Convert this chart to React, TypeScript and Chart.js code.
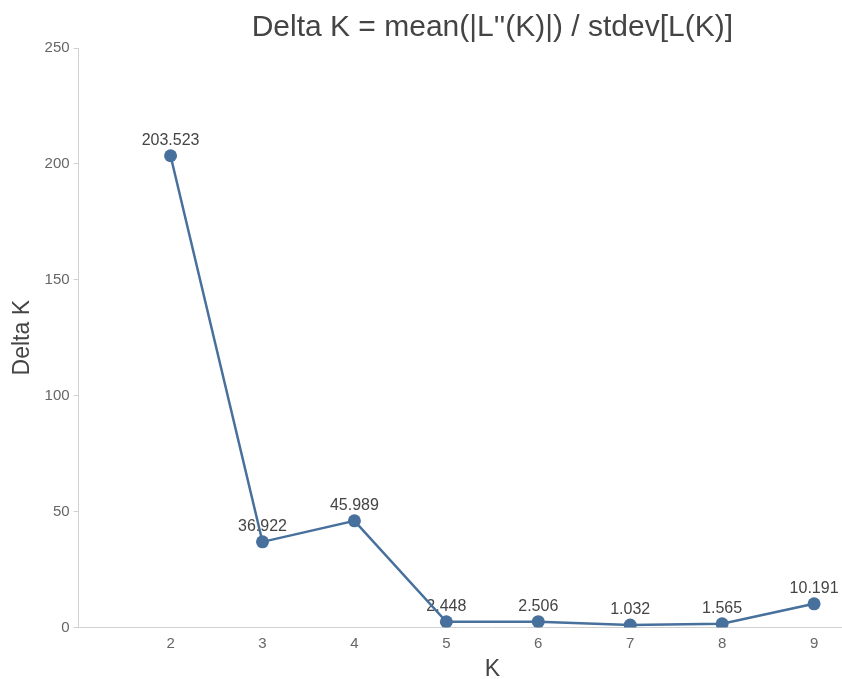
import React, { useEffect, useRef } from "react";
import { Chart, registerables } from "chart.js";

Chart.register(...registerables);

const kValues = [2, 3, 4, 5, 6, 7, 8, 9];
const deltaK = [203.523, 36.922, 45.989, 2.448, 2.506, 1.032, 1.565, 10.191];
const deltaKLabels = ["203.523", "36.922", "45.989", "2.448", "2.506", "1.032", "1.565", "10.191"];
const yTicks = [0, 50, 100, 150, 200, 250];
const titleText = "Delta K = mean(|L''(K)|) / stdev[L(K)]";

const FONT = "'Liberation Sans', Arial, Helvetica, sans-serif";
const LINE_COLOR = "#48709c";

const labelPlugin = {
  id: "valueLabels",
  beforeDatasetsDraw(chart: any) {
    const ctx = chart.ctx;
    const meta = chart.getDatasetMeta(0);
    ctx.save();
    ctx.font = `16px ${FONT}`;
    ctx.fillStyle = "#444";
    ctx.textAlign = "center";
    ctx.textBaseline = "bottom";
    meta.data.forEach((pt: any, i: number) => {
      ctx.fillText(deltaKLabels[i], pt.x, pt.y - 7);
    });
    ctx.restore();
  },
};

const titlePlugin = {
  id: "areaTitle",
  afterDraw(chart: any) {
    const ctx = chart.ctx;
    const area = chart.chartArea;
    ctx.save();
    ctx.font = `30px ${FONT}`;
    ctx.fillStyle = "#444";
    ctx.textAlign = "center";
    ctx.textBaseline = "middle";
    ctx.fillText(titleText, (area.left + area.right) / 2, 28);
    ctx.restore();
  },
};

export default function App() {
  const ref = useRef<HTMLCanvasElement | null>(null);
  useEffect(() => {
    if (!ref.current) return;
    const chart = new Chart(ref.current, {
      type: "scatter",
      data: {
        datasets: [
          {
            data: kValues.map((k, i) => ({ x: k, y: deltaK[i] })),
            showLine: true,
            borderColor: LINE_COLOR,
            backgroundColor: LINE_COLOR,
            borderWidth: 2.5,
            pointRadius: 6.5,
            pointHoverRadius: 6.5,
            pointBorderWidth: 0,
            tension: 0,
          },
        ],
      },
      options: {
        animation: false,
        responsive: false,
        maintainAspectRatio: false,
        layout: { autoPadding: false, padding: { top: 48, right: 0, left: 9, bottom: 0 } },
        plugins: {
          legend: { display: false },
          tooltip: { enabled: false },
          title: { display: false },
        },
        scales: {
          x: {
            type: "linear",
            min: 1,
            max: 10,
            afterBuildTicks: (axis: any) => {
              axis.ticks = kValues.map((v) => ({ value: v }));
            },
            grid: { display: false, drawTicks: false, tickLength: 0 },
            border: { display: true, color: "#d0d0d0", width: 1 },
            ticks: {
              color: "#666",
              font: { size: 15, family: FONT },
              padding: 7,
              callback: (v: any) => String(v),
            },
            title: {
              display: true,
              text: "K",
              color: "#444",
              font: { size: 23, family: FONT, lineHeight: 0.85 },
              padding: { top: 0, bottom: 0 },
            },
          },
          y: {
            type: "linear",
            min: 0,
            max: 250,
            afterBuildTicks: (axis: any) => {
              axis.ticks = yTicks.map((v) => ({ value: v }));
            },
            grid: {
              drawOnChartArea: false,
              drawTicks: true,
              tickLength: 5,
              color: "#d0d0d0",
            },
            border: { display: true, color: "#d0d0d0", width: 1 },
            ticks: {
              color: "#666",
              font: { size: 15, family: FONT },
              padding: 4,
            },
            title: {
              display: true,
              text: "Delta K",
              color: "#444",
              font: { size: 23, family: FONT },
              padding: { top: 0, bottom: 4 },
            },
          },
        },
      },
      plugins: [labelPlugin, titlePlugin],
    });
    return () => chart.destroy();
  }, []);
  return (
    <div
      style={{
        position: "fixed",
        left: 0,
        top: 0,
        width: 842,
        height: 679,
        overflow: "hidden",
        background: "#fff",
      }}
    >
      <canvas ref={ref} width={906} height={679} style={{ display: "block" }} />
    </div>
  );
}
